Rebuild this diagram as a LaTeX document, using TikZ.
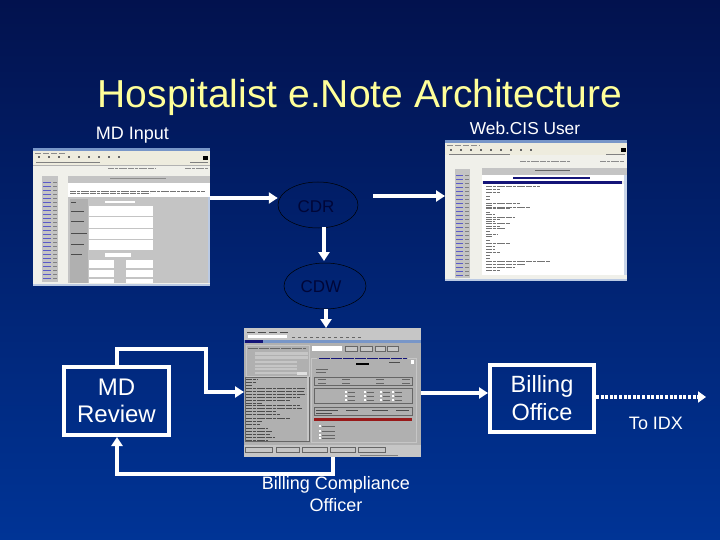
\documentclass[tikz,border=0pt]{standalone}
\usepackage{fontspec}
\setmainfont{Liberation Sans}
\usetikzlibrary{arrows.meta,shapes.geometric}
\definecolor{bgtop}{RGB}{2,18,78}
\definecolor{bgbot}{RGB}{0,52,150}
\definecolor{titleyellow}{RGB}{255,255,153}
\definecolor{inktext}{RGB}{0,6,56}
\definecolor{winbar}{RGB}{238,236,222}
\definecolor{winbody}{RGB}{240,240,234}
\definecolor{wingray}{RGB}{196,196,196}
\definecolor{shotgray}{RGB}{176,176,176}
\definecolor{shotlight}{RGB}{198,198,198}
\definecolor{linkblue}{RGB}{90,90,200}
\definecolor{navybar}{RGB}{20,20,120}
\definecolor{steelbar}{RGB}{120,150,200}
\tikzset{
  x=1pt,y=-1pt,
  lab/.style={text=white,align=center,inner sep=0pt,font=\fontsize{#1}{22}\selectfont},
  shot/.style={inner sep=0pt,minimum width=#1,outer sep=0pt},
  flow/.style={draw=white,line width=3.6pt,-{Triangle[length=9pt,width=11pt]},line join=miter},
  dots/.style={draw=white,line width=3.6pt,dash pattern=on 3pt off 1.6pt,-{Triangle[length=8pt,width=11pt]}},
  whitebox/.style={draw=white,line width=4pt,inner sep=0pt,text=white,align=center},
  store/.style={draw=black,line width=.5pt,ellipse,inner sep=0pt},
  storetext/.style={text=inktext,font=\fontsize{17}{20}\selectfont,inner sep=0pt},
  txt/.style={line width=.55pt,draw=#1,dash pattern=on 6pt off .8pt on 3pt off 1pt on 8pt off 1.2pt},
  txt/.default=black!55,
  tool/.style={line width=1.4pt,draw=black!60,dash pattern=on 2pt off 8pt},
}
\newcommand{\winframe}[5]{% x0 y0 x1 y1 toolbar-bottom
  \fill[winbody] (#1,#2) rectangle (#3,#4);
  \fill[winbar] (#1,#2) rectangle (#3,#5);
  \fill[steelbar] (#1,#2) rectangle (#3,#2+2.6);
  \fill[steelbar!50!white] (#1,#4-2) rectangle (#3,#4);
}
\begin{document}
\begin{tikzpicture}
\useasboundingbox (0,0) rectangle (720,540);
\shade[top color=bgtop,bottom color=bgbot] (0,0) rectangle (720,540);

% --- screenshot 1
\winframe{33}{148}{210}{286}{165}
\draw[black!45,line width=.5pt,dash pattern=on 6pt off 2pt] (35,153)--(65,153);
\draw[tool] (38,157)--(125,157);
\draw[black!50,line width=.5pt] (36,162)--(100,162) (190,162)--(208,162);
\fill[black] (203,156) rectangle (208,160);
\draw[black!30,line width=.4pt] (33,165)--(210,165);
\draw[txt=black!45] (108,168)--(155,168);
\draw[txt=black!45] (185,168)--(208,168);
\fill[wingray] (42,176) rectangle (58,282);
\foreach \yy in {182,186,...,278}{\draw[linkblue,line width=.6pt] (43,\yy)--(51,\yy);\draw[black!50,line width=.5pt] (53,\yy)--(57,\yy);}
\fill[wingray] (68,176) rectangle (210,183);
\draw[black!45,line width=.5pt] (110,178)--(166,178);
\fill[white] (68,183) rectangle (210,197);
\draw[txt] (70,191)--(205,191);
\draw[txt] (70,193)--(150,193);
\fill[wingray] (68,197) rectangle (210,283);
\fill[shotgray] (70,199) rectangle (88,283);
\fill[white] (89,206) rectangle (153,216);
\fill[white] (89,217.5) rectangle (153,228);
\fill[white] (89,229) rectangle (153,238.5);
\fill[white] (89,240) rectangle (153,249.5);
\fill[white] (89,260) rectangle (114,268);
\fill[white] (89,270) rectangle (114,277);
\fill[white] (89,278.5) rectangle (114,283);
\fill[white] (126,260) rectangle (153,268);
\fill[white] (126,270) rectangle (153,277);
\fill[white] (126,278.5) rectangle (153,283);
\fill[white] (105,253) rectangle (131,257);
\fill[white] (105,201) rectangle (135,203);
\draw[black!70,line width=.5pt] (71,202)--(76,202) (71,211)--(84,211) (71,221)--(84,221) (71,233)--(87,233) (71,244)--(84,244) (71,254)--(82,254);
\fill[steelbar!50!white] (208,197) rectangle (210,283);
\node[shot=177pt,minimum height=138pt] (mdin) at (121.5,217) {};

% --- screenshot 2
\winframe{445}{140}{627}{281}{155}
\draw[black!45,line width=.5pt,dash pattern=on 6pt off 2pt] (447,145)--(480,145);
\draw[tool] (450,150)--(535,150);
\draw[black!50,line width=.5pt] (449,154)--(510,154) (606,154)--(625,154);
\fill[black] (621,148) rectangle (626,152);
\draw[txt=black!45] (520,161)--(570,161);
\draw[txt=black!45] (600,161)--(624,161);
\fill[wingray] (455,169) rectangle (470,278);
\foreach \yy in {175,179,...,275}{\draw[linkblue,line width=.6pt] (456,\yy)--(463,\yy);\draw[black!50,line width=.5pt] (465,\yy)--(469,\yy);}
\fill[wingray] (482,168) rectangle (627,175);
\draw[black!60,line width=.5pt] (535,170)--(570,170);
\fill[white] (482,175) rectangle (627,181);
\draw[navybar,line width=1.6pt] (513,178)--(590,178);
\fill[navybar] (483,181) rectangle (622,184);
\fill[white] (482,184) rectangle (624,275);
\foreach \yy/\xe in {186/540,189/500,192/500,196/490,199/490,203/520,205/492,207/530,208/510,212/490,214/495,217/515,219/500,221/495,223/510,226/500,228/505,231/490,234/498,236/492,240/490,243/510,246/495,249/495,252/500,255/490,258/490,261/550,264/525,267/515,270/500}{\draw[txt] (486,\yy)--(\xe,\yy);}
\fill[steelbar!40!white] (624,175) rectangle (627,275);
\node[shot=182pt,minimum height=141pt] (web) at (536,210.5) {};

% --- screenshot 3
\fill[shotgray] (244,328) rectangle (421,457);
\fill[shotlight] (244,328) rectangle (421,340);
\draw[black!70,line width=.5pt,dash pattern=on 8pt off 3pt] (247,332.5)--(290,332.5);
\fill[white] (248,335) rectangle (287,338);
\draw[black!60,line width=.6pt,dash pattern=on 3pt off 3pt] (292,337)--(362,337);
\fill[steelbar] (244,340) rectangle (421,343);
\fill[navybar] (245,340) rectangle (263,343);
\draw[shotlight,line width=.5pt] (246,345) rectangle (309,376);
\draw[black!60,line width=.6pt,dash pattern=on 10pt off 1pt] (248,348)--(306,348);
\fill[shotlight] (255,352) rectangle (308,355);
\fill[shotlight] (255,356) rectangle (308,359);
\fill[shotlight] (255,361) rectangle (297,363);
\fill[shotlight] (255,365) rectangle (297,367);
\fill[shotlight] (255,368) rectangle (297,370);
\fill[shotlight] (255,372) rectangle (297,374);
\fill[white!88!black] (297,372) rectangle (307,375);
\draw[black!60,line width=.4pt,fill=shotgray] (245,377) rectangle (309,441);
\foreach \yy/\xe in {379/258,382/256,385/252,388/306,391/304,394/306,397/300,400/290,403/262,405/300,408/302,411/276,414/280,418/290,421/262,424/260,428/268,431/272,434/270,437/275,440/268}{\draw[txt=black!70] (246,\yy)--(\xe,\yy);}
\fill[shotlight] (307,377) rectangle (309,441);
\fill[white] (312,346) rectangle (342,351);
\draw[black!60,line width=.4pt,fill=shotlight] (345,346) rectangle (357,351);
\draw[black!60,line width=.4pt,fill=shotlight] (360,346) rectangle (372,351);
\draw[black!60,line width=.4pt,fill=shotlight] (375,346) rectangle (385,351);
\draw[black!60,line width=.4pt,fill=shotlight] (387,346) rectangle (398,351);
\draw[shotlight,line width=.6pt] (311,358) rectangle (416,442);
\fill[shotgray] (317,356) rectangle (408,360);
\draw[navybar,line width=.8pt,dash pattern=on 11pt off 1pt] (319,358)--(407,358);
\fill[white] (411,360) rectangle (414,364);
\draw[black,line width=1.4pt] (356,364)--(369,364);
\draw[black!70,line width=.7pt] (389,362)--(400,362);
\draw[black!60,line width=.5pt] (316,369)--(328,369) (316,372)--(326,372);
\draw[black!60,line width=.4pt] (314,377) rectangle (412,385) (314,388) rectangle (412,403) (314,407) rectangle (412,415);
\foreach \xx in {318,342,376,402}{\draw[black!60,line width=.4pt] (\xx,379.5)--(\xx+8,379.5) (\xx,383)--(\xx+8,383);}
\foreach \xx in {345,364,380,392}{\foreach \yy in {391,395,399}{\fill[white] (\xx,\yy) rectangle (\xx+2,\yy+2);\draw[black!60,line width=.4pt] (\xx+3,\yy+1)--(\xx+10,\yy+1);}}
\draw[black!70,line width=.5pt] (316,410)--(338,410) (316,413)--(332,413) (346,410)--(358,410) (372,410)--(388,410) (396,410)--(409,410);
\fill[red!55!black!90!white] (314,418) rectangle (412,421);
\foreach \yy in {425,430,434,437}{\fill[white] (319,\yy) rectangle (321,\yy+2);\draw[black!60,line width=.5pt] (322,\yy+1)--(335,\yy+1);}
\fill[shotlight] (244,445) rectangle (421,457);
\foreach \xa/\xb in {245/272,276/299,302/327,330/355,358/385}{\draw[black!60,line width=.4pt,fill=shotlight] (\xa,447) rectangle (\xb,452);}
\draw[black!50,line width=.5pt] (360,455)--(398,455);
\node[shot=177pt,minimum height=129pt] (cis) at (332.5,392.5) {};

% --- nodes
\node[store,minimum width=80pt,minimum height=46pt] (cdr) at (318,205) {};
\node[store,minimum width=82pt,minimum height=46pt] (cdw) at (325,286) {};
\node[storetext] (cdrt) at (316,207) {CDR};
\node[storetext] (cdwt) at (321,287) {CDW};
\node[whitebox,minimum width=105pt,minimum height=68pt,font=\fontsize{24}{27.5}\selectfont] (review) at (116.5,401) {MD\\Review};
\node[whitebox,minimum width=104pt,minimum height=67pt,font=\fontsize{23.5}{28}\selectfont] (billing) at (542,398.5) {Billing\\Office};

\node[inner sep=0pt,text=titleyellow,font=\fontsize{39}{42}\selectfont] (title) at (360,97) {Hospitalist e.Note Architecture};
\node[lab=18] (l1) at (132.5,135) {MD Input};
\node[lab=17.3] (l2) at (525,128.5) {Web.CIS User};
\node[lab=18] (l3) at (336,494.5) {Billing Compliance\\Officer};
\node[lab=18] (l4) at (656,423) {To IDX};

% --- connectors
\coordinate (a1) at (mdin.east |- 0,198);
\coordinate (a2) at (cdr.west |- 0,198);
\draw[flow] (a1) -- (a2);
\coordinate (b1) at (cdr.east |- 0,196);
\coordinate (b2) at (web.west |- 0,196);
\draw[flow] ([xshift=15pt]b1) -- (b2);
\coordinate (g1) at (324,227);
\coordinate (g2) at (324,261);
\draw[flow] (g1) -- (g2);
\coordinate (h1) at (326,309);
\coordinate (h2) at (326,328);
\draw[flow] (h1) -- (h2);
\coordinate (c1) at (117,365);
\coordinate (c2) at (206,349);
\coordinate (c3) at (cis.west |- 0,392);
\draw[flow] (c1) |- (c2) |- (c3);
\coordinate (d1) at (333,457);
\coordinate (d2) at (333,474);
\coordinate (d3) at (117,474);
\coordinate (d4) at (117,437);
\draw[flow] (d1) -- (d2) -- (d3) -- (d4);
\coordinate (e1) at (cis.east |- 0,393);
\coordinate (e2) at (billing.west |- 0,393);
\draw[flow] (e1) -- (e2);
\coordinate (f1) at (billing.east |- 0,397);
\coordinate (f2) at (706,397);
\draw[dots] (f1) -- (f2);
\end{tikzpicture}
\end{document}
